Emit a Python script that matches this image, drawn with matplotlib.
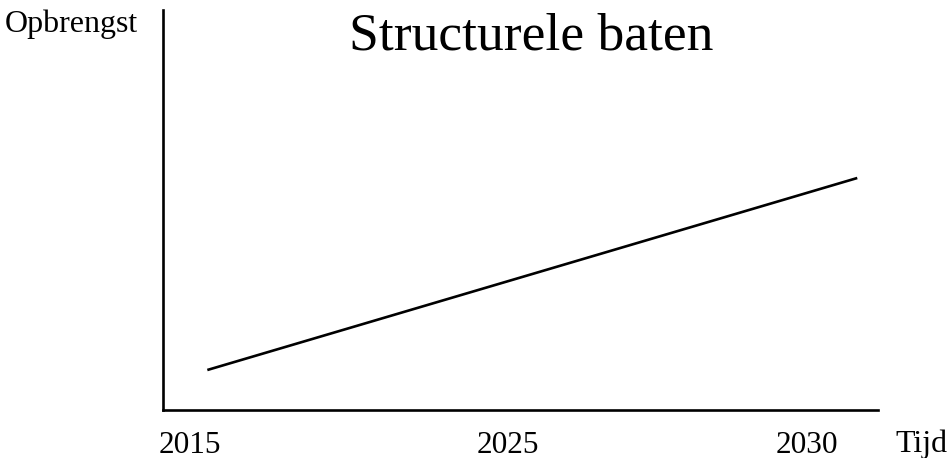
import matplotlib
matplotlib.use("Agg")
import matplotlib.pyplot as plt

# Data (schematic)
line_x = [6.2, 97.1]
line_y = [0.10, 0.58]
tick_positions = [3.8, 48.3, 90.0]
tick_labels = ["2015", "2025", "2030"]
title = "Structurele baten"
ylabel = "Opbrengst"
xlabel = "Tijd"

plt.rcParams['font.family'] = ['Liberation Serif', 'DejaVu Serif']

fig = plt.figure(figsize=(9.49, 4.58), dpi=100)
W, H = 949, 458
ax = fig.add_axes([163 / W, (H - 410) / H, (878 - 163) / W, 400 / H])
ax.plot(line_x, line_y, color='black', lw=1.9, solid_capstyle='butt')
ax.set_xlim(0, 100)
ax.set_ylim(0, 1)
for s in ['top', 'right']:
    ax.spines[s].set_visible(False)
for s in ['left', 'bottom']:
    ax.spines[s].set_linewidth(1.9)
ax.set_yticks([])
ax.set_xticks(tick_positions)
ax.set_xticklabels(tick_labels, fontsize=22.5)
ax.tick_params(axis='x', length=0, pad=15)

fig.text(5 / W, (H - 32) / H, ylabel, fontsize=23, ha='left', va='baseline')
fig.text(921 / W, (H - 452) / H, xlabel, fontsize=23, ha='center', va='baseline')
fig.text(531 / W, (H - 50) / H, title, fontsize=38.5, ha='center', va='baseline')

fig.savefig("out.png", dpi=100)
